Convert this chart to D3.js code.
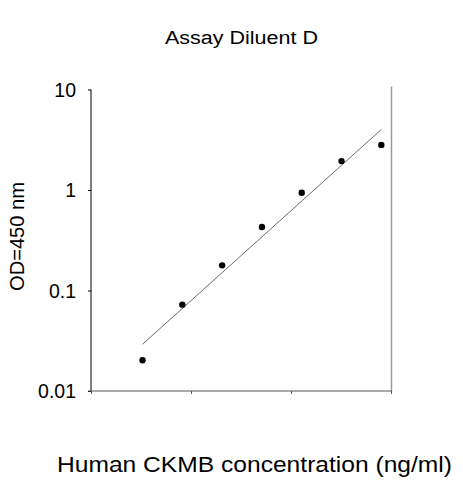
<!DOCTYPE html>
<html>
<head>
<meta charset="utf-8">
<script src="https://cdn.jsdelivr.net/npm/d3@7"></script>
<style>
  body { margin: 0; background: #fff; }
  text { font-family: Arial, "Liberation Sans", sans-serif; fill: #000; }
</style>
</head>
<body>
<div id="chart"></div>
<script>
const concentrations = [3.2768, 8.192, 20.48, 51.2, 128, 320, 800];
const odValues = [0.0202, 0.0723, 0.178, 0.428, 0.938, 1.94, 2.81];
const fitX = [3.2768, 800];
const fitY = [0.0292, 4.0];
const xTicks = [1, 10, 100, 1000];
const yTicks = [0.01, 0.1, 1, 10];
const yTickLabels = ["0.01", "0.1", "1", "10"];

const w = 463;
const h = 480;
const plotLeft = 91, plotRight = 391, plotTop = 89.5, plotBottom = 391;

let svg = d3.select("#chart")
    .append("svg")
    .attr("width", w)
    .attr("height", h);

const x = d3.scaleLog().domain([1, 1000]).range([plotLeft, plotRight]);
const y = d3.scaleLog().domain([0.01, 10]).range([plotBottom, plotTop]);

// right border
svg.append("line")
    .attr("x1", plotRight + 0.5).attr("x2", plotRight + 0.5)
    .attr("y1", plotTop - 3).attr("y2", plotBottom)
    .attr("stroke", "#9a9a9a")
    .attr("stroke-width", 1.5);

// y axis
const yAxis = d3.axisLeft(y)
    .tickValues(yTicks)
    .tickFormat((d, i) => yTickLabels[i])
    .tickSize(3)
    .tickPadding(12);

const gy = svg.append("g")
    .attr("transform", "translate(" + plotLeft + ",0)")
    .call(yAxis);
gy.select(".domain").attr("stroke", "#000").attr("d", "M0," + plotTop + "V" + plotBottom);
gy.selectAll(".tick line").attr("stroke", "#000");
gy.selectAll(".tick text")
    .style("font-size", "19.5px")
    .attr("dy", "0.35em");

// x axis (no labels)
const xAxis = d3.axisBottom(x)
    .tickValues(xTicks)
    .tickFormat("")
    .tickSize(3);

const gx = svg.append("g")
    .attr("transform", "translate(0," + plotBottom + ")")
    .call(xAxis);
gx.select(".domain").attr("stroke", "#555").attr("d", "M" + (plotLeft - 3) + ",0H" + (plotRight + 1));
gx.selectAll(".tick line").attr("stroke", "#555");

// fit line
const line = d3.line()
    .x(d => x(d[0]))
    .y(d => y(d[1]));

svg.append("path")
    .datum(fitX.map((d, i) => [d, fitY[i]]))
    .attr("d", line)
    .attr("fill", "none")
    .attr("stroke", "#444")
    .attr("stroke-width", 0.8);

// points
svg.append("g")
    .selectAll("circle")
    .data(concentrations)
    .enter()
    .append("circle")
    .attr("cx", d => x(d))
    .attr("cy", (d, i) => y(odValues[i]))
    .attr("r", 3.2)
    .attr("fill", "#000");

// title
svg.append("text")
    .attr("x", 165)
    .attr("y", 44)
    .attr("textLength", 153)
    .attr("lengthAdjust", "spacingAndGlyphs")
    .style("font-size", "18px")
    .text("Assay Diluent D");

// y label
svg.append("text")
    .attr("transform", "translate(23.5,291) rotate(-90)")
    .attr("textLength", 109)
    .attr("lengthAdjust", "spacingAndGlyphs")
    .style("font-size", "21px")
    .text("OD=450 nm");

// x label
svg.append("text")
    .attr("x", 57)
    .attr("y", 472)
    .attr("textLength", 395)
    .attr("lengthAdjust", "spacingAndGlyphs")
    .style("font-size", "22.5px")
    .text("Human CKMB concentration (ng/ml)");
</script>
</body>
</html>
